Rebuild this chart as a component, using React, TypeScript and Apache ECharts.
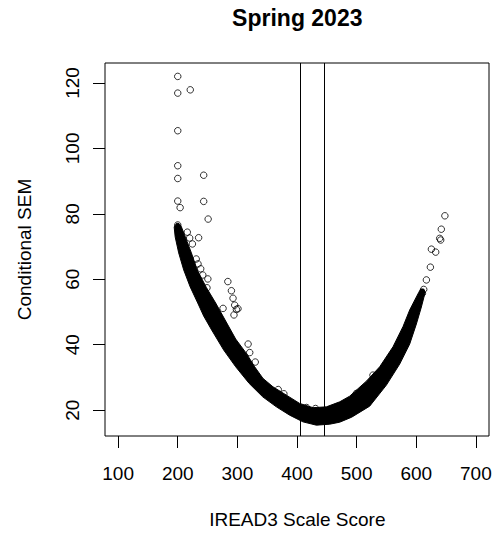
import React, { useEffect, useRef } from "react";
import * as echarts from "echarts";

const FONT = "'Liberation Sans', Arial, sans-serif";

const chartTitle = "Spring 2023";
const xAxisTitle = "IREAD3 Scale Score";
const yAxisTitle = "Conditional SEM";

const xTickValues = [100, 200, 300, 400, 500, 600, 700];
const yTickValues = [20, 40, 60, 80, 100, 120];

// vertical reference lines (cut scores)
const cutScores = [406, 446];

// dense cloud of students: outer (lower / outside) edge of the band
const bandOuterEdge: number[][] = [
  [194.0, 76.0], [195.7, 72.95], [201.6, 68.06], [210.0, 62.85], [220.9, 57.65],
  [233.5, 52.75], [243.5, 48.77], [256.9, 44.49], [277.1, 38.36], [297.2, 33.25],
  [319.8, 28.17], [342.5, 24.07], [365.4, 21.01], [387.7, 18.47], [410.0, 16.42],
  [432.5, 15.41], [454.8, 15.71], [471.6, 16.32], [491.7, 17.85], [521.9, 21.22],
  [549.9, 27.65], [572.2, 34.08], [589.0, 40.2], [600.2, 46.32], [608.6, 51.53],
  [612.5, 54.28], [615.0, 56.12], [612.5, 57.03], [607.4, 57.03],
];

// inner (upper / inside) edge of the band, from the right tip back to the left tip
const bandInnerEdge: number[][] = [
  [604.1, 55.96], [600.2, 54.59], [589.0, 50.61], [577.7, 45.5], [561.0, 39.37],
  [538.7, 33.25], [516.4, 28.87], [488.4, 24.28], [471.6, 22.54], [449.3, 21.01],
  [426.8, 20.76], [404.5, 22.05], [382.2, 24.59], [359.7, 27.13], [343.0, 29.7],
  [329.0, 33.25], [315.1, 37.35], [297.2, 41.73], [280.4, 47.24], [263.6, 52.75],
  [248.0, 57.49], [232.6, 62.85], [222.9, 68.06], [213.3, 72.65], [205.8, 76.17],
  [202.4, 77.0], [198.2, 77.15],
];

// individual points standing out of the cloud
const sparseScores: number[][] = [
  [200, 122.0], [200, 116.9], [221, 117.9], [200, 105.4], [200, 94.7], [200, 90.8],
  [243.5, 91.8], [200, 83.9], [204, 81.9], [243.5, 83.8], [251, 78.4], [200, 76.6],
  [216, 74.4], [220, 72.6], [224.6, 70.8], [235, 72.7], [231, 66.2], [234, 64.7],
  [238.5, 63.2], [242, 61.3], [250.5, 60.1], [249, 57.4], [276, 51.1], [284, 59.3],
  [290, 56.5], [292.7, 54.2], [295.5, 52.1], [298.4, 50.8], [301, 51.0], [294.3, 49.1],
  [318, 40.2], [320.7, 37.6], [330, 34.7], [368.5, 26.3], [378, 25.0], [416, 20.8],
  [431, 20.5], [499.6, 25.1], [527.4, 30.7],
  [610.3, 55.7], [612.5, 56.9], [617, 59.8], [623.7, 63.7], [632.6, 68.3], [625.4, 69.2],
  [641, 72.0], [639.3, 72.5], [642, 75.3], [648, 79.4],
];

export default function App() {
  const ref = useRef<HTMLDivElement>(null);

  useEffect(() => {
    document.body.style.margin = "0";
    const chart = echarts.init(ref.current!, null, { renderer: "svg" });
    const bandPolygon = bandOuterEdge.concat(bandInnerEdge);

    const titleGraphics: any[] = [
      {
        type: "text",
        x: 297.3,
        y: 17.5,
        silent: true,
        style: {
          text: chartTitle,
          fontSize: 23,
          fontWeight: "bold",
          fontFamily: FONT,
          fill: "#000",
          align: "center",
          verticalAlign: "middle",
        },
      },
      {
        type: "text",
        x: 297.3,
        y: 519,
        silent: true,
        style: {
          text: xAxisTitle,
          fontSize: 19,
          fontFamily: FONT,
          fill: "#000",
          align: "center",
          verticalAlign: "middle",
        },
      },
      {
        type: "text",
        x: 24,
        y: 249.5,
        rotation: Math.PI / 2,
        silent: true,
        style: {
          text: yAxisTitle,
          fontSize: 19,
          fontFamily: FONT,
          fill: "#000",
          align: "center",
          verticalAlign: "middle",
        },
      },
    ];

    chart.setOption({
      animation: false,
      backgroundColor: "#fff",
      textStyle: { fontFamily: FONT, color: "#000" },
      grid: {
        left: 105,
        top: 63,
        right: 6,
        bottom: 99,
        show: true,
        borderColor: "#000",
        borderWidth: 1,
        backgroundColor: "transparent",
      },
      xAxis: {
        type: "value",
        min: 78,
        max: 722,
        axisLine: { show: false },
        splitLine: { show: false },
        axisTick: {
          show: true,
          customValues: xTickValues,
          length: 12,
          lineStyle: { color: "#000", width: 1 },
        },
        axisLabel: {
          customValues: xTickValues,
          margin: 28,
          fontSize: 19,
          color: "#000",
          fontFamily: FONT,
        },
      },
      yAxis: {
        type: "value",
        min: 12.1,
        max: 126.1,
        axisLine: { show: false },
        splitLine: { show: false },
        axisTick: {
          show: true,
          customValues: yTickValues,
          length: 12,
          lineStyle: { color: "#000", width: 1 },
        },
        axisLabel: { show: false },
      },
      graphic: titleGraphics,
      series: [
        {
          type: "custom",
          silent: true,
          z: 2,
          data: [[400, 20]],
          renderItem: (_params: any, api: any) => ({
            type: "polygon",
            shape: { points: bandPolygon.map((p) => api.coord(p)) },
            style: { fill: "#000", stroke: "#000", lineWidth: 1 },
          }),
        },
        {
          type: "scatter",
          silent: true,
          z: 3,
          data: sparseScores,
          symbol: "circle",
          symbolSize: 6.5,
          itemStyle: { color: "transparent", borderColor: "#000", borderWidth: 1 },
          markLine: {
            silent: true,
            symbol: "none",
            label: { show: false },
            lineStyle: { color: "#000", width: 1, type: "solid" },
            data: cutScores.map((v) => ({ xAxis: v })),
          },
        },
      ],
    });

    // y tick labels, rotated as in R (read bottom to top), placed through the axis scale
    const yLabelGraphics = yTickValues.map((v) => ({
      type: "text",
      x: 72,
      y: chart.convertToPixel({ yAxisIndex: 0 }, v) as number,
      rotation: Math.PI / 2,
      silent: true,
      style: {
        text: String(v),
        fontSize: 19,
        fontFamily: FONT,
        fill: "#000",
        align: "center",
        verticalAlign: "middle",
      },
    }));
    chart.setOption({ graphic: titleGraphics.concat(yLabelGraphics) });

    return () => chart.dispose();
  }, []);

  return <div ref={ref} style={{ width: 495, height: 535 }} />;
}
